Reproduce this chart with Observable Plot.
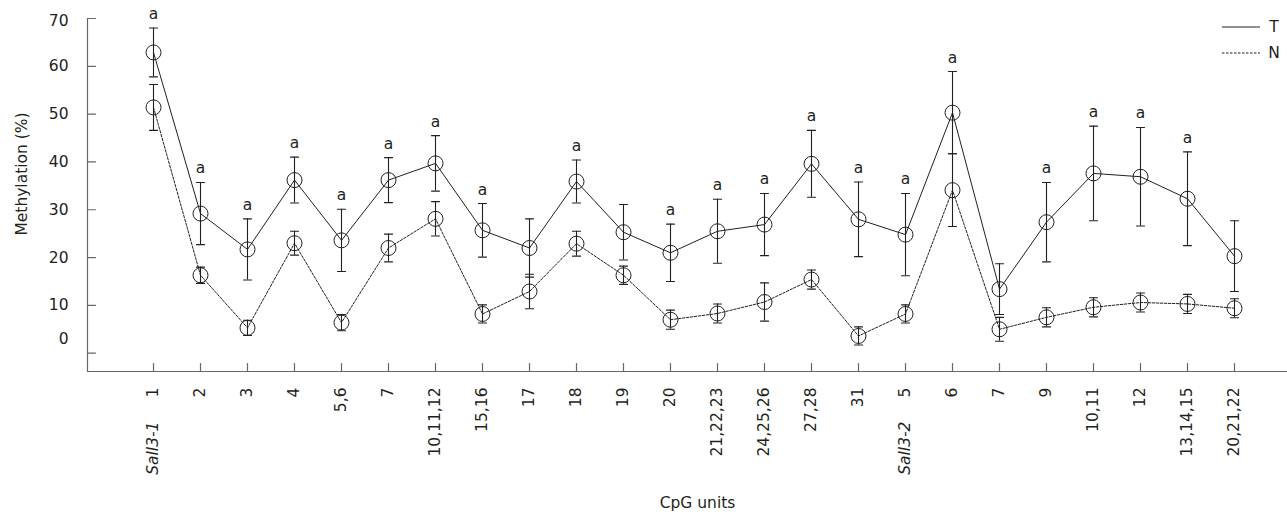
<!DOCTYPE html>
<html>
<head>
<meta charset="utf-8">
<script src="https://cdn.jsdelivr.net/npm/d3@7"></script>
<script src="https://cdn.jsdelivr.net/npm/@observablehq/plot@0.6"></script>
<style>
  html, body { margin: 0; padding: 0; background: #fff; }
  #chart { width: 1287px; height: 512px; }
</style>
</head>
<body>
<div id="chart"></div>
<script>
// CpG units along the two Sall3 amplicons
const cpgUnits = ["1", "2", "3", "4", "5,6", "7", "10,11,12", "15,16", "17", "18", "19", "20",
  "21,22,23", "24,25,26", "27,28", "31", "5", "6", "7", "9", "10,11", "12", "13,14,15", "20,21,22"];
// amplicon names written under the first unit of each amplicon
const ampliconLabels = ["Sall3-1", "", "", "", "", "", "", "", "", "", "", "", "", "", "", "",
  "Sall3-2", "", "", "", "", "", "", ""];

// mean methylation (%) and error, tumour (T) and normal (N)
const tumorMean = [62.9, 29.2, 21.7, 36.2, 23.6, 36.2, 39.7, 25.7, 22.0, 35.9, 25.3, 21.0,
  25.5, 26.9, 39.6, 28.0, 24.8, 50.3, 13.4, 27.4, 37.6, 36.9, 32.3, 20.3];
const tumorErr = [5.1, 6.5, 6.4, 4.8, 6.5, 4.7, 5.8, 5.6, 6.1, 4.5, 5.8, 6.0,
  6.7, 6.5, 7.0, 7.8, 8.6, 8.6, 5.3, 8.3, 9.9, 10.3, 9.8, 7.4];
const normalMean = [51.4, 16.3, 5.3, 23.0, 6.4, 22.0, 28.1, 8.2, 12.9, 22.9, 16.3, 7.0,
  8.3, 10.7, 15.4, 3.6, 8.2, 34.1, 5.0, 7.5, 9.6, 10.6, 10.3, 9.4];
const normalErr = [4.8, 1.7, 1.6, 2.5, 1.7, 2.9, 3.6, 1.9, 3.6, 2.6, 1.9, 2.0,
  2.0, 4.0, 2.0, 1.9, 1.9, 7.6, 2.5, 2.0, 2.0, 2.0, 2.0, 2.0];
// significance marks above the tumour error bars
const significance = ["a", "a", "a", "a", "a", "a", "a", "a", "", "a", "", "a",
  "a", "a", "a", "a", "a", "a", "", "a", "a", "a", "a", ""];

const yTicks = [0, 10, 20, 30, 40, 50, 60, 70];
const seriesNames = ["T", "N"];

const ink = "#231f20";
const axisInk = "#6d6563";
const fontFamily = "'DejaVu Sans', Verdana, sans-serif";

const units = cpgUnits.map((unit, i) => ({
  i, unit, amplicon: ampliconLabels[i], sig: significance[i],
  top: tumorMean[i] + tumorErr[i]
}));

const points = [
  ...tumorMean.map((v, i) => ({i, series: "T", value: v, lo: v - tumorErr[i], hi: v + tumorErr[i]})),
  ...normalMean.map((v, i) => ({i, series: "N", value: v, lo: v - normalErr[i], hi: v + normalErr[i]}))
];

// a plain stroke drawn from the anchor along the vector direction
const stroke = {draw(context, l) { context.moveTo(0, 0); context.lineTo(0, -l); }};

const plot = Plot.plot({
  width: 1287,
  height: 512,
  marginLeft: 87,
  marginRight: 0,
  marginTop: 18,
  marginBottom: 141,
  style: {fontFamily, fontSize: "15.5px", color: ink, background: "#fff"},
  x: {type: "point", domain: d3.range(cpgUnits.length), range: [147.3, 1239.4], padding: 0},
  y: {domain: [-3.83, 70]},
  marks: [
    // axis lines
    Plot.frame({anchor: "left", stroke: axisInk, strokeWidth: 1.2}),
    Plot.frame({anchor: "bottom", stroke: axisInk, strokeWidth: 1.2}),
    // inward tick marks
    Plot.vector(yTicks, {y: d => d, frameAnchor: "left", length: 8, rotate: 90, anchor: "start",
      shape: stroke, stroke: axisInk, strokeWidth: 1.2}),
    Plot.vector(units, {x: "i", frameAnchor: "bottom", length: 8, rotate: 0, anchor: "start",
      shape: stroke, stroke: axisInk, strokeWidth: 1.2}),
    // tick labels
    Plot.axisY(yTicks.filter(v => v > 0 && v < 70), {tickSize: 0, tickPadding: 19, label: null, fill: ink}),
    Plot.axisY([70], {tickSize: 0, tickPadding: 19, label: null, fill: ink, dy: 3}),
    Plot.axisY([0], {tickSize: 0, tickPadding: 19, label: null, fill: ink, dy: -14}),
    Plot.axisX(d3.range(cpgUnits.length), {tickSize: 0, tickPadding: 16, tickRotate: -90,
      tickFormat: i => cpgUnits[i], label: null, fill: ink}),
    Plot.text(units.filter(d => d.amplicon), {x: "i", frameAnchor: "bottom", text: "amplicon",
      rotate: -90, textAnchor: "end", lineAnchor: "middle", dy: 50, fontStyle: "italic", fill: ink}),
    // axis titles
    Plot.text(["Methylation (%)"], {frameAnchor: "left", textAnchor: "middle", lineAnchor: "middle",
      dx: -65, dy: -21, rotate: -90, fill: ink}),
    Plot.text(["CpG units"], {frameAnchor: "bottom", textAnchor: "middle", lineAnchor: "middle",
      dx: 10, dy: 132, fill: ink}),
    // series lines
    Plot.line(points.filter(d => d.series === "T"), {x: "i", y: "value", stroke: ink, strokeWidth: 1}),
    Plot.line(points.filter(d => d.series === "N"), {x: "i", y: "value", stroke: ink, strokeWidth: 1,
      strokeDasharray: "2.5,1.5"}),
    // error bars with caps
    Plot.ruleX(points, {x: "i", y1: "lo", y2: "hi", stroke: ink, strokeWidth: 1.1}),
    Plot.vector(points, {x: "i", y: "hi", length: 8, rotate: 90, anchor: "middle", shape: stroke,
      stroke: ink, strokeWidth: 1.1}),
    Plot.vector(points, {x: "i", y: "lo", length: 8, rotate: 90, anchor: "middle", shape: stroke,
      stroke: ink, strokeWidth: 1.1}),
    // open circle markers
    Plot.dot(points, {x: "i", y: "value", r: 7.5, stroke: ink, strokeWidth: 1, fill: "none"}),
    // significance letters
    Plot.text(units.filter(d => d.sig), {x: "i", y: "top", text: "sig", dy: -14, fill: ink})
  ]
});

// legend in the top-right corner
const svg = d3.select(plot);
const legend = svg.append("g")
  .attr("font-family", fontFamily)
  .attr("font-size", "15.5px")
  .attr("fill", ink);
seriesNames.forEach((name, k) => {
  const y = 27 + k * 26;
  legend.append("line")
    .attr("x1", 1222).attr("x2", 1260).attr("y1", y).attr("y2", y)
    .attr("stroke", ink).attr("stroke-width", 1)
    .attr("stroke-dasharray", name === "N" ? "2.5,1.5" : null);
  legend.append("text")
    .attr("x", 1274).attr("y", y).attr("dy", "0.35em")
    .text(name);
});

document.getElementById("chart").appendChild(plot);
</script>
</body>
</html>
